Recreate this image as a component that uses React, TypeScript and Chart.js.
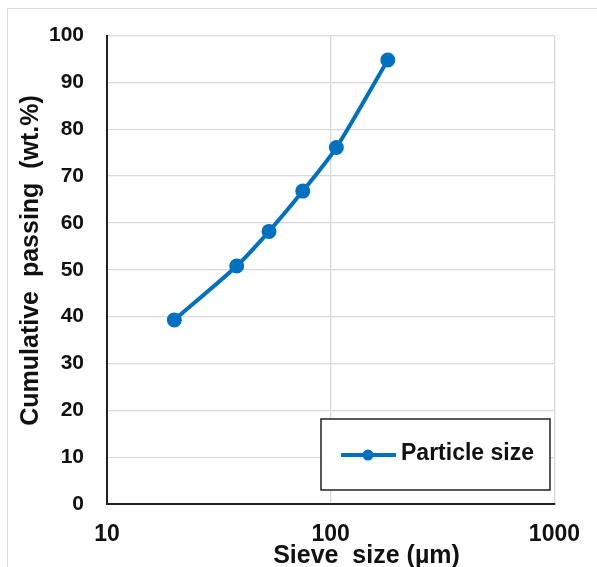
import { useEffect, useRef } from "react";
import { Chart, registerables } from "chart.js";
Chart.register(...registerables);

const sieveSizes = [20, 38, 53, 75, 106, 180];
const passing = [39.3, 50.8, 58.2, 66.8, 76.1, 94.8];
const xTickValues = [10, 100, 1000];
const seriesLabel = "Particle size";
const xTitle = "Sieve  size (µm)";
const yTitle = "Cumulative  passing  (wt.%)";

const FONT = "'Liberation Sans', Arial, sans-serif";
const BLUE = "#0070C0";

const decorPlugin = {
  id: "decor",
  beforeDraw(chart: any) {
    const ctx = chart.ctx;
    ctx.save();
    ctx.strokeStyle = "#d9d9d9";
    ctx.lineWidth = 1;
    ctx.strokeRect(7.5, 8.5, 800, 800);
    ctx.restore();
  },
  afterDraw(chart: any) {
    const ctx = chart.ctx;
    const ca = chart.chartArea;
    ctx.save();
    ctx.fillStyle = "#111";
    ctx.font = `bold 25px ${FONT}`;
    ctx.textAlign = "center";
    ctx.textBaseline = "middle";
    ctx.fillText(xTitle, ca.left + (ca.right - ca.left) * 0.58, ca.bottom + 52);
    ctx.save();
    ctx.translate(31, ca.top + (ca.bottom - ca.top) * 0.48);
    ctx.rotate(-Math.PI / 2);
    ctx.fillText(yTitle, 0, 0);
    ctx.restore();

    const ds = chart.data.datasets[0];
    const bx = 321, by = 419, bw = 229, bh = 71;
    ctx.fillStyle = "#fff";
    ctx.fillRect(bx, by, bw, bh);
    ctx.strokeStyle = "#222";
    ctx.lineWidth = 1.5;
    ctx.strokeRect(bx, by, bw, bh);
    const ly = by + 36;
    ctx.strokeStyle = ds.borderColor;
    ctx.lineWidth = ds.borderWidth;
    ctx.beginPath();
    ctx.moveTo(bx + 20, ly);
    ctx.lineTo(bx + 75, ly);
    ctx.stroke();
    ctx.fillStyle = ds.pointBackgroundColor;
    ctx.beginPath();
    ctx.arc(bx + 47, ly, ds.pointRadius, 0, Math.PI * 2);
    ctx.fill();
    ctx.fillStyle = "#111";
    ctx.font = `bold 23px ${FONT}`;
    ctx.textAlign = "left";
    ctx.textBaseline = "middle";
    ctx.fillText(ds.label, bx + 80, ly - 1);
    ctx.restore();
  },
};

export default function App() {
  const ref = useRef<HTMLCanvasElement>(null);
  useEffect(() => {
    if (!ref.current) return;
    const chart = new Chart(ref.current, {
      type: "line",
      data: {
        datasets: [
          {
            label: seriesLabel,
            data: sieveSizes.map((x, i) => ({ x, y: passing[i] })),
            borderColor: BLUE,
            backgroundColor: BLUE,
            pointBackgroundColor: BLUE,
            pointBorderColor: BLUE,
            borderWidth: 4,
            pointRadius: 5.5,
            tension: 0.25,
          } as any,
        ],
      },
      options: {
        animation: false,
        responsive: false,
        maintainAspectRatio: false,
        layout: { padding: { left: 0, right: 41, top: 30, bottom: 0 } },
        plugins: { legend: { display: false }, tooltip: { enabled: false } },
        scales: {
          x: {
            type: "logarithmic",
            min: 10,
            max: 1000,
            afterBuildTicks: (scale: any) => {
              scale.ticks = xTickValues.map((v) => ({ value: v }));
            },
            afterFit: (scale: any) => {
              scale.height = 63;
            },
            ticks: {
              callback: (v: any) => String(v),
              font: { family: FONT, size: 23, weight: "bold" },
              color: "#111",
              padding: 17,
              maxRotation: 0,
              autoSkip: false,
            },
            grid: { color: "#d9d9d9", lineWidth: 1.3, drawTicks: false },
            border: { color: "#222", width: 2 },
          },
          y: {
            min: 0,
            max: 100,
            afterFit: (scale: any) => {
              scale.width = 107;
            },
            ticks: {
              stepSize: 10,
              font: { family: FONT, size: 21, weight: "bold" },
              color: "#111",
              padding: 23,
            },
            grid: { color: "#d9d9d9", lineWidth: 1.3, drawTicks: false },
            border: { color: "#222", width: 2 },
          },
        },
      } as any,
      plugins: [decorPlugin],
    });
    return () => chart.destroy();
  }, []);
  return (
    <div style={{ position: "absolute", left: 0, top: 0, width: 597, height: 567, background: "#fff" }}>
      <canvas ref={ref} width={597} height={567} style={{ width: 597, height: 567, display: "block" }} />
    </div>
  );
}
